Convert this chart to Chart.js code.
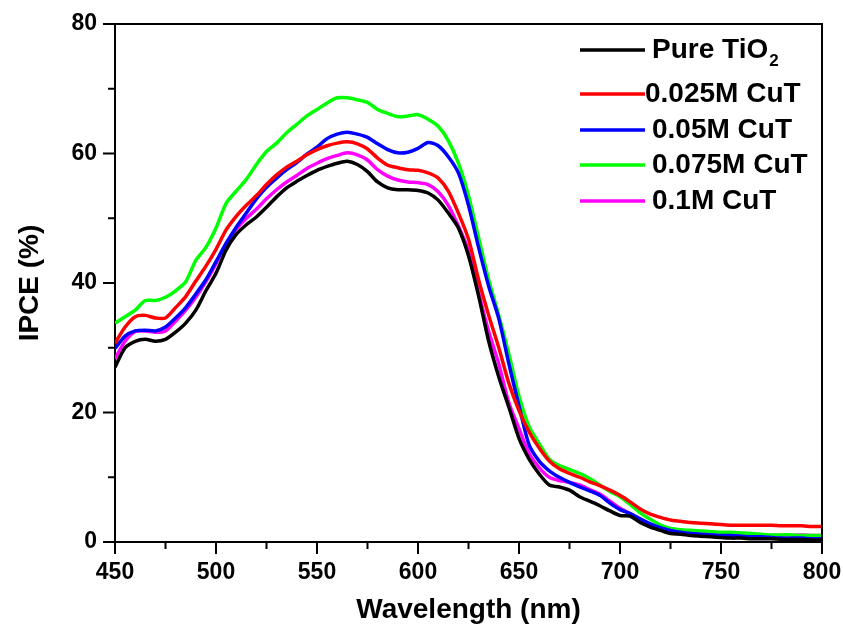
<!DOCTYPE html>
<html>
<head>
<meta charset="utf-8">
<script src="https://cdn.jsdelivr.net/npm/chart.js@4.4.1/dist/chart.umd.min.js"></script>
<style>
  html, body { margin: 0; padding: 0; background: #fff; }
  #wrap { width: 843px; height: 631px; }
</style>
</head>
<body>
<div id="wrap"><canvas id="chart1" width="843" height="631"></canvas></div>
<script>
// wavelength (nm), 5 nm steps
var wavelength = [450,455,460,465,470,475,480,485,490,495,500,505,510,515,520,525,530,535,540,545,
  550,555,560,565,570,575,580,585,590,595,600,605,610,615,620,625,630,635,640,645,
  650,655,660,665,670,675,680,685,690,695,700,705,710,715,720,725,730,735,740,745,
  750,755,760,765,770,775,780,785,790,795,800];

var pureTiO2 = [27.0,30.0,31.0,31.3,31.0,31.3,32.4,33.8,35.8,38.8,41.5,45.1,47.5,49.0,50.2,51.7,53.3,54.7,55.7,56.6,
  57.4,58.0,58.5,58.8,58.3,57.2,55.6,54.7,54.4,54.4,54.3,53.9,52.8,50.8,48.5,44.2,38.0,31.0,25.5,20.8,
  16.0,12.8,10.5,8.8,8.5,8.0,7.0,6.3,5.6,4.8,4.1,4.0,3.0,2.3,1.8,1.3,1.2,1.0,0.9,0.8,
  0.7,0.6,0.6,0.5,0.5,0.5,0.4,0.4,0.4,0.3,0.3];

var cuT025 = [30.7,33.2,34.8,35.0,34.6,34.6,36.2,37.9,40.3,42.6,45.2,48.2,50.3,52.0,53.5,55.2,56.7,57.9,58.8,59.8,
  60.6,61.2,61.6,61.8,61.5,60.7,59.3,58.2,57.8,57.5,57.4,57.0,56.2,54.2,50.8,46.8,40.5,35.0,30.0,24.5,
  20.3,17.0,14.5,12.5,11.3,10.6,10.0,9.3,8.7,8.0,7.2,6.2,5.1,4.3,3.8,3.4,3.2,3.0,2.9,2.8,
  2.7,2.6,2.6,2.6,2.6,2.6,2.5,2.5,2.5,2.4,2.4];

var cuT05 = [29.9,31.8,32.6,32.7,32.6,33.2,34.6,36.2,38.3,40.5,43.3,46.1,48.6,50.8,53.0,54.8,56.2,57.5,58.6,59.9,
  61.0,62.3,63.0,63.3,63.0,62.5,61.5,60.6,60.1,60.2,60.8,61.7,61.2,59.5,57.0,52.0,45.5,39.5,34.5,27.5,
  21.0,15.0,12.5,11.0,10.0,9.2,8.5,7.9,7.2,6.0,5.0,4.4,3.6,2.8,2.2,1.8,1.5,1.3,1.2,1.1,
  1.0,1.0,0.9,0.8,0.8,0.7,0.6,0.6,0.6,0.5,0.5];

var cuT075 = [33.8,34.8,35.8,37.3,37.3,37.8,38.8,40.2,43.5,45.5,48.5,52.3,54.2,56.0,58.3,60.3,61.6,63.2,64.5,65.8,
  66.8,67.8,68.6,68.6,68.3,67.9,66.8,66.2,65.7,65.8,66.0,65.3,64.2,62.0,58.5,53.5,47.0,40.5,35.0,29.0,
  22.5,17.8,15.2,12.8,11.8,11.2,10.6,9.8,8.8,7.8,7.0,5.8,4.5,3.5,2.6,2.1,1.9,1.8,1.7,1.6,
  1.5,1.5,1.4,1.3,1.2,1.1,1.1,1.1,1.0,1.0,1.0];

var cuT1 = [28.3,31.0,32.5,32.6,32.4,32.6,34.1,35.8,37.8,40.2,43.0,46.1,48.3,50.0,51.4,53.0,54.4,55.6,56.6,57.7,
  58.5,59.2,59.7,60.1,59.8,59.0,57.5,56.5,55.9,55.6,55.5,55.2,54.1,52.0,48.8,45.0,38.5,32.5,27.5,21.5,
  17.5,13.7,11.5,10.0,9.5,9.2,8.8,8.1,7.4,6.3,5.2,4.4,3.5,2.7,2.1,1.8,1.5,1.3,1.2,1.1,
  1.0,1.0,1.0,1.0,1.0,1.0,1.0,1.0,1.1,1.0,1.0];

var seriesNames = ['Pure TiO', '0.025M CuT', '0.05M CuT', '0.075M CuT', '0.1M CuT'];
var seriesColors = ['#000000', '#ff0000', '#0000ff', '#00ff00', '#ff00ff'];
var seriesData = [pureTiO2, cuT025, cuT05, cuT075, cuT1];

var xTicks = [450, 500, 550, 600, 650, 700, 750, 800];
var yTicks = [0, 20, 40, 60, 80];

function pts(vals) {
    var out = [];
    for (var i = 0; i < wavelength.length; i++) out.push({x: wavelength[i], y: vals[i]});
    return out;
}

var datasets = [];
for (var i = 0; i < seriesNames.length; i++) {
    datasets.push({
        label: seriesNames[i],
        data: pts(seriesData[i]),
        borderColor: seriesColors[i],
        backgroundColor: seriesColors[i],
        borderWidth: 3.5,
        pointRadius: 0,
        tension: 0.25,
        fill: false
    });
}

var FONT = '"Liberation Sans", Arial, sans-serif';

// frame, ticks (major + minor) and legend
var decor = {
    id: 'decor',
    afterDraw: function (chart) {
        var ctx = chart.ctx;
        var a = chart.chartArea;
        var xs = chart.scales.x, ys = chart.scales.y;
        ctx.save();
        ctx.strokeStyle = '#000';
        ctx.lineWidth = 2;
        ctx.beginPath();
        ctx.moveTo(a.left, a.top); ctx.lineTo(a.right, a.top); ctx.lineTo(a.right, a.bottom);
        ctx.stroke();
        ctx.beginPath();
        for (var v = 450; v <= 800; v += 25) {
            var px = xs.getPixelForValue(v);
            var len = (v % 50 === 0) ? 12 : 7;
            ctx.moveTo(px, a.bottom); ctx.lineTo(px, a.bottom + len);
        }
        for (var w = 0; w <= 80; w += 10) {
            var py = ys.getPixelForValue(w);
            var l2 = (w % 20 === 0) ? 12 : 7;
            ctx.moveTo(a.left, py); ctx.lineTo(a.left - l2, py);
        }
        ctx.stroke();

        // legend
        var rowsY = [50, 94, 130, 165, 201];
        ctx.textBaseline = 'middle';
        ctx.textAlign = 'left';
        for (var i = 0; i < seriesNames.length; i++) {
            var y = rowsY[i];
            ctx.strokeStyle = seriesColors[i];
            ctx.lineWidth = 3.5;
            ctx.beginPath();
            ctx.moveTo(580, y); ctx.lineTo(645, y);
            ctx.stroke();
            ctx.fillStyle = '#000';
            ctx.font = 'bold 28px ' + FONT;
            var tx = (i === 1) ? 645 : 652;
            ctx.fillText(seriesNames[i], tx, y);
            if (i === 0) {
                var wdt = ctx.measureText(seriesNames[i]).width;
                ctx.font = 'bold 17px ' + FONT;
                ctx.fillText('2', tx + wdt + 1, y + 11);
            }
        }
        ctx.restore();
    }
};

var ctx1 = document.getElementById('chart1').getContext('2d');
var chart1 = new Chart(ctx1, {
    type: 'line',
    data: { datasets: datasets },
    options: {
        responsive: false,
        animation: false,
        layout: { padding: { top: 24, right: 21, left: 0, bottom: 0 } },
        plugins: { legend: { display: false }, tooltip: { enabled: false } },
        scales: {
            x: {
                type: 'linear',
                min: 450, max: 800,
                afterFit: function (s) { s.height = 89; s.paddingLeft = 0; s.paddingRight = 0; },
                afterBuildTicks: function (s) { s.ticks = xTicks.map(function (v) { return {value: v}; }); },
                grid: { display: false, drawTicks: false },
                border: { display: true, color: '#000', width: 2 },
                ticks: { color: '#000', padding: 17, maxRotation: 0, font: { family: FONT, size: 23, weight: 'bold' } },
                title: { display: true, text: 'Wavelength (nm)', color: '#000', padding: { top: 0, bottom: 4 },
                         font: { family: FONT, size: 28, weight: 'bold' } }
            },
            y: {
                type: 'linear',
                min: 0, max: 80,
                afterFit: function (s) { s.width = 115; s.paddingTop = 0; s.paddingBottom = 0; },
                afterBuildTicks: function (s) { s.ticks = yTicks.map(function (v) { return {value: v}; }); },
                grid: { display: false, drawTicks: false },
                border: { display: true, color: '#000', width: 2 },
                ticks: { color: '#000', padding: 18, font: { family: FONT, size: 23, weight: 'bold' } },
                title: { display: true, text: 'IPCE (%)', color: '#000', padding: { top: 13, bottom: 0 },
                         font: { family: FONT, size: 28, weight: 'bold' } }
            }
        }
    },
    plugins: [decor]
});
</script>
</body>
</html>
